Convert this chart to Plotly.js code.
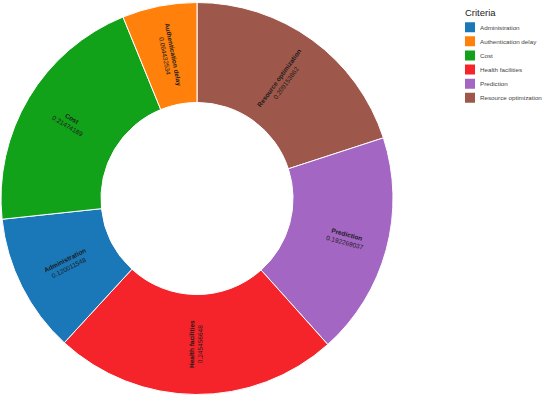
<!DOCTYPE html>
<html><head><meta charset="utf-8">
<script src="https://cdn.plot.ly/plotly-3.0.1.min.js"></script>
<style>
html,body{margin:0;padding:0;overflow:hidden;width:550px;height:397px;background:#fff}
#chart{width:1100px;height:794px;transform:scale(0.5);transform-origin:0 0;}
</style>
</head><body><div id="chart"></div>
<script>
// Data (legend order)
const categories = ['Administration','Authentication delay','Cost','Health facilities','Prediction','Resource optimization'];
const values = [0.120011548, 0.064432534, 0.21474189, 0.245456648, 0.192269037, 0.209153862];
const colors = ['#1b78b8','#ff810b','#12a21a','#f5242a','#a466c3','#9e584b'];
// Order of slices clockwise from 12 o'clock
const sliceOrder = ['Resource optimization','Prediction','Health facilities','Administration','Cost','Authentication delay'];

const idx = sliceOrder.map(c => categories.indexOf(c));
// invisible padding lines keep radial labels at the slice middle
const pad = n => Array(n).fill('<span style="color:rgba(0,0,0,0)">.</span>').join('<br>');
const padCount = {'Cost': 6, 'Prediction': 7};
const templates = idx.map(i => {
  const core = '<b>%{label}</b><br>%{value}';
  const n = padCount[categories[i]] || 0;
  return n ? pad(n) + '<br>' + core + '<br>' + pad(n) : core;
});

const pie = {
  type: 'pie',
  labels: idx.map(i => categories[i]),
  values: idx.map(i => values[i]),
  marker: {colors: idx.map(i => colors[i]), line: {color: '#ffffff', width: 2}},
  hole: 0.49,
  sort: false,
  direction: 'clockwise',
  rotation: 0,
  texttemplate: templates,
  textposition: 'inside',
  insidetextorientation: 'radial',
  textfont: {size: 13, color: '#1a1a1a'},
  showlegend: false,
  hoverinfo: 'label+value+percent',
  domain: {x: [0, 1], y: [0, 1]}
};
const legendTraces = categories.map((c, i) => ({
  type: 'scatter', x: [null], y: [null], mode: 'markers', name: c,
  legendgroup: c, hoverinfo: 'skip',
  marker: {symbol: 'square', size: 16, color: colors[i], line: {color: colors[i], width: 4}}
}));

const layout = {
  width: 1100, height: 794,
  margin: {l: 2, r: 314, t: 5, b: 5},
  font: {family: 'Liberation Sans, Arial, sans-serif', color: '#444'},
  paper_bgcolor: '#ffffff', plot_bgcolor: 'rgba(0,0,0,0)',
  xaxis: {visible: false}, yaxis: {visible: false},
  legend: {
    font: {size: 12.5, color: '#444'},
    x: 1.1709, xanchor: 'left', y: 0.9556, yanchor: 'top',
    traceorder: 'grouped', tracegroupgap: 9,
    bgcolor: 'rgba(0,0,0,0)'
  },
  annotations: [{
    text: 'Criteria', xref: 'paper', yref: 'paper', x: 1.1811, y: 0.9755,
    xanchor: 'left', yanchor: 'middle', showarrow: false,
    font: {size: 19, color: '#222'}
  }],
  showlegend: true
};
Plotly.newPlot('chart', [pie].concat(legendTraces), layout, {displayModeBar: false, staticPlot: true});
</script>
</body></html>
